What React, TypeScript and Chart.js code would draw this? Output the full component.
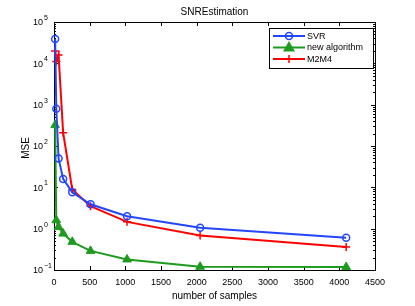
import React, { useEffect, useRef } from "react";
import { Chart, registerables } from "chart.js";

Chart.register(...registerables);

const samples = [16, 32, 64, 128, 256, 512, 1024, 2048, 4096];
const svr = [39000, 800, 50, 16, 7.6, 3.9, 2.0, 1.05, 0.6];
const newAlgorithm = [320, 1.6, 1.1, 0.76, 0.48, 0.29, 0.18, 0.12, 0.118];
const m2m4 = [20000, 11000, 16000, 210, 8.9, 3.5, 1.46, 0.68, 0.36];

const xTicks = [0, 500, 1000, 1500, 2000, 2500, 3000, 3500, 4000, 4500];
const yExponents = [-1, 0, 1, 2, 3, 4, 5];
const seriesNames = ["SVR", "new algorithm", "M2M4"];
const titleText = "SNREstimation";
const xTitle = "number of samples";
const yTitle = "MSE";

const BLUE = "rgb(35,70,255)";
const GREEN = "rgb(30,155,30)";
const RED = "rgb(255,0,0)";
const FONT = "'Liberation Sans', Arial, Helvetica, sans-serif";

function toPoints(vals: number[]) {
  return samples.map((x, i) => ({ x, y: vals[i] }));
}

function drawMarker(ctx: CanvasRenderingContext2D, kind: string, x: number, y: number, color: string) {
  ctx.save();
  ctx.strokeStyle = color;
  ctx.fillStyle = color;
  ctx.lineWidth = 1.5;
  if (kind === "circle") {
    ctx.beginPath();
    ctx.arc(x, y, 3.5, 0, Math.PI * 2);
    ctx.stroke();
  } else if (kind === "triangle") {
    const r = 5;
    ctx.beginPath();
    ctx.moveTo(x, y - r);
    ctx.lineTo(x + r * 0.95, y + r * 0.65);
    ctx.lineTo(x - r * 0.95, y + r * 0.65);
    ctx.closePath();
    ctx.fill();
    ctx.stroke();
  } else {
    const r = 4;
    ctx.beginPath();
    ctx.moveTo(x - r, y);
    ctx.lineTo(x + r, y);
    ctx.moveTo(x, y - r);
    ctx.lineTo(x, y + r);
    ctx.stroke();
  }
  ctx.restore();
}

const axesPlugin = {
  id: "matlabAxes",
  beforeDatasetsDraw(chart: any) {
    const { ctx, chartArea: a, scales } = chart;
    const xs = scales.x;
    const ys = scales.y;
    ctx.save();
    ctx.strokeStyle = "#000";
    ctx.lineWidth = 1;
    ctx.strokeRect(Math.round(a.left) + 0.5, Math.round(a.top) + 0.5, Math.round(a.right - a.left), Math.round(a.bottom - a.top));
    ctx.beginPath();
    xTicks.forEach((t) => {
      const px = Math.round(xs.getPixelForValue(t)) + 0.5;
      ctx.moveTo(px, a.bottom);
      ctx.lineTo(px, a.bottom - 4);
      ctx.moveTo(px, a.top);
      ctx.lineTo(px, a.top + 4);
    });
    yExponents.forEach((e) => {
      const py = Math.round(ys.getPixelForValue(Math.pow(10, e))) + 0.5;
      ctx.moveTo(a.left, py);
      ctx.lineTo(a.left + 4, py);
      ctx.moveTo(a.right, py);
      ctx.lineTo(a.right - 4, py);
      if (e < 5) {
        for (let m = 2; m <= 9; m++) {
          const pm = Math.round(ys.getPixelForValue(m * Math.pow(10, e))) + 0.5;
          ctx.moveTo(a.left, pm);
          ctx.lineTo(a.left + 2, pm);
          ctx.moveTo(a.right, pm);
          ctx.lineTo(a.right - 2, pm);
        }
      }
    });
    ctx.stroke();
    ctx.restore();
  },
  afterDraw(chart: any) {
    const { ctx, chartArea: a, scales } = chart;
    const xs = scales.x;
    const ys = scales.y;
    ctx.save();
    ctx.fillStyle = "#000";
    ctx.font = `9px ${FONT}`;
    ctx.textAlign = "center";
    ctx.textBaseline = "middle";
    xTicks.forEach((t) => {
      ctx.fillText(String(t), xs.getPixelForValue(t), a.bottom + 13);
    });
    yExponents.forEach((e) => {
      const py = ys.getPixelForValue(Math.pow(10, e));
      ctx.font = `9px ${FONT}`;
      ctx.textAlign = "right";
      ctx.textBaseline = "middle";
      ctx.fillText("10", a.left - 11, py + 1);
      ctx.font = `7px ${FONT}`;
      ctx.textAlign = "left";
      ctx.fillText(e < 0 ? "\u2212" + Math.abs(e) : String(e), a.left - 10, py - 4);
    });
    ctx.font = `10px ${FONT}`;
    ctx.textAlign = "center";
    ctx.textBaseline = "middle";
    const cx = (a.left + a.right) / 2;
    ctx.fillText(titleText, cx, 12);
    ctx.fillText(xTitle, cx, a.bottom + 26);
    ctx.save();
    ctx.translate(26, (a.top + a.bottom) / 2 + 2);
    ctx.rotate(-Math.PI / 2);
    ctx.fillText(yTitle, 0, 0);
    ctx.restore();
    // legend
    const lx = 269, ly = 28, lw = 104, lh = 40;
    ctx.fillStyle = "#fff";
    ctx.fillRect(lx, ly, lw, lh);
    ctx.strokeStyle = "#000";
    ctx.lineWidth = 1;
    ctx.strokeRect(lx + 0.5, ly + 0.5, lw, lh);
    const colors = [BLUE, GREEN, RED];
    const kinds = ["circle", "triangle", "cross"];
    seriesNames.forEach((name, i) => {
      const y = ly + 8 + i * 11.5;
      ctx.strokeStyle = colors[i];
      ctx.lineWidth = 2;
      ctx.beginPath();
      ctx.moveTo(lx + 4, y);
      ctx.lineTo(lx + 36, y);
      ctx.stroke();
      drawMarker(ctx, kinds[i], lx + 20, y, colors[i]);
      ctx.fillStyle = "#000";
      ctx.font = `9px ${FONT}`;
      ctx.textAlign = "left";
      ctx.textBaseline = "middle";
      ctx.fillText(name, lx + 38, y + 0.5);
    });
    ctx.restore();
  },
};

export default function App() {
  const ref = useRef<HTMLCanvasElement | null>(null);
  useEffect(() => {
    if (!ref.current) return;
    const chart = new Chart(ref.current, {
      type: "line",
      data: {
        datasets: [
          {
            label: seriesNames[0],
            data: toPoints(svr),
            borderColor: BLUE,
            backgroundColor: "rgba(0,0,0,0)",
            borderWidth: 2,
            pointStyle: "circle",
            pointRadius: 3.5,
            pointBorderWidth: 1.5,
            pointBorderColor: BLUE,
            pointBackgroundColor: "rgba(0,0,0,0)",
            clip: false,
          },
          {
            label: seriesNames[1],
            data: toPoints(newAlgorithm),
            borderColor: GREEN,
            backgroundColor: GREEN,
            borderWidth: 2,
            pointStyle: "triangle",
            pointRadius: 5,
            pointBorderWidth: 1,
            pointBorderColor: GREEN,
            pointBackgroundColor: GREEN,
            clip: false,
          },
          {
            label: seriesNames[2],
            data: toPoints(m2m4),
            borderColor: RED,
            backgroundColor: RED,
            borderWidth: 2,
            pointStyle: "cross",
            pointRadius: 4,
            pointBorderWidth: 1.5,
            pointBorderColor: RED,
            clip: false,
          },
        ] as any,
      },
      options: {
        responsive: false,
        animation: false,
        devicePixelRatio: 1,
        layout: { padding: { left: 54, right: 40, top: 22, bottom: 36 } },
        plugins: { legend: { display: false }, title: { display: false }, tooltip: { enabled: false } },
        scales: {
          x: { type: "linear", min: 0, max: 4500, display: false },
          y: { type: "logarithmic", min: 0.1, max: 100000, display: false },
        },
        elements: { line: { tension: 0 } },
      } as any,
      plugins: [axesPlugin],
    });
    return () => chart.destroy();
  }, []);
  return (
    <div style={{ position: "absolute", left: 0, top: 0, width: 415, height: 306, background: "#fff" }}>
      <canvas ref={ref} width={415} height={306} style={{ width: 415, height: 306 }} />
    </div>
  );
}
